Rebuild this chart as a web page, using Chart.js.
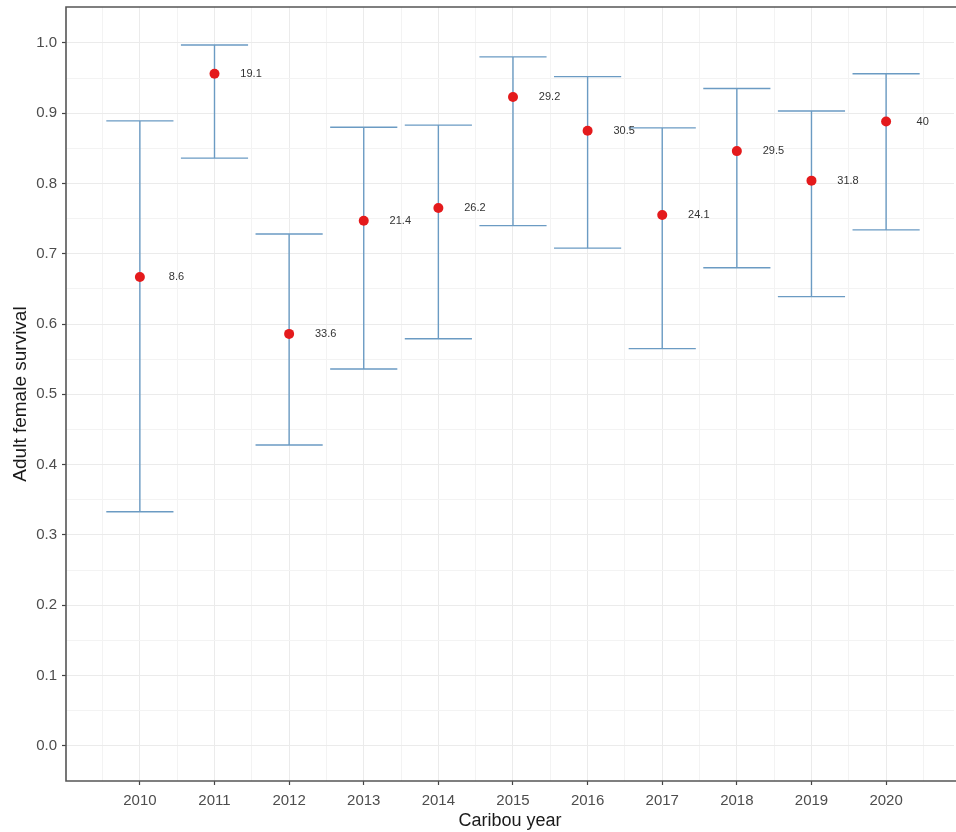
<!DOCTYPE html>
<html>
<head>
<meta charset="utf-8">
<script src="https://cdn.jsdelivr.net/npm/chart.js@4.4.0/dist/chart.umd.min.js"></script>
<style>
html,body{margin:0;padding:0;background:#fff;overflow:hidden;}
#wrap{width:956px;height:832px;position:relative;overflow:hidden;}
</style>
</head>
<body>
<div id="wrap"><canvas id="c" width="959" height="832"></canvas></div>
<script>
const years = [2010, 2011, 2012, 2013, 2014, 2015, 2016, 2017, 2018, 2019, 2020];
const survival = [0.667, 0.956, 0.586, 0.747, 0.765, 0.923, 0.875, 0.755, 0.846, 0.804, 0.888];
const upper = [0.889, 0.997, 0.728, 0.880, 0.883, 0.980, 0.952, 0.879, 0.935, 0.903, 0.956];
const lower = [0.333, 0.836, 0.428, 0.536, 0.579, 0.740, 0.708, 0.565, 0.680, 0.639, 0.734];
const labels = ['8.6', '19.1', '33.6', '21.4', '26.2', '29.2', '30.5', '24.1', '29.5', '31.8', '40'];
const yTickValues = [0.0, 0.1, 0.2, 0.3, 0.4, 0.5, 0.6, 0.7, 0.8, 0.9, 1.0];

const isMajorY = v => yTickValues.some(t => Math.abs(t - v) < 1e-6);
const isMajorX = v => years.some(t => Math.abs(t - v) < 1e-6);

const errPlugin = {
  id: 'errbars',
  beforeDatasetsDraw(chart) {
    const ctx = chart.ctx, xs = chart.scales.x, ys = chart.scales.y;
    ctx.save();
    ctx.strokeStyle = '#6b9bc3';
    ctx.lineWidth = 1.4;
    for (let i = 0; i < years.length; i++) {
      const x = xs.getPixelForValue(years[i]);
      const xl = xs.getPixelForValue(years[i] - 0.45);
      const xr = xs.getPixelForValue(years[i] + 0.45);
      const yu = ys.getPixelForValue(upper[i]);
      const yl = ys.getPixelForValue(lower[i]);
      ctx.beginPath();
      ctx.moveTo(x, yu); ctx.lineTo(x, yl);
      ctx.moveTo(xl, yu); ctx.lineTo(xr, yu);
      ctx.moveTo(xl, yl); ctx.lineTo(xr, yl);
      ctx.stroke();
    }
    ctx.restore();
  },
  afterDatasetsDraw(chart) {
    const ctx = chart.ctx, xs = chart.scales.x, ys = chart.scales.y, a = chart.chartArea;
    ctx.save();
    ctx.fillStyle = '#333333';
    ctx.font = '11px "Liberation Sans", Arial, sans-serif';
    ctx.textAlign = 'center';
    ctx.textBaseline = 'middle';
    for (let i = 0; i < years.length; i++) {
      ctx.fillText(labels[i], xs.getPixelForValue(years[i] + 0.49), ys.getPixelForValue(survival[i]));
    }
    // panel border (top, left, bottom)
    ctx.strokeStyle = '#555555';
    ctx.lineWidth = 1.6;
    ctx.beginPath();
    ctx.moveTo(a.right + 4, a.top);
    ctx.lineTo(a.left, a.top);
    ctx.lineTo(a.left, a.bottom);
    ctx.lineTo(a.right + 4, a.bottom);
    ctx.stroke();
    ctx.restore();
  }
};

new Chart(document.getElementById('c'), {
  type: 'scatter',
  data: {
    datasets: [{
      data: years.map((y, i) => ({x: y, y: survival[i]})),
      backgroundColor: '#e41a1c',
      borderColor: '#e41a1c',
      pointRadius: 5,
      pointHoverRadius: 5,
      borderWidth: 0
    }]
  },
  options: {
    responsive: false,
    animation: false,
    layout: {padding: {top: 7, right: 0, left: 0, bottom: 0}},
    plugins: {legend: {display: false}, tooltip: {enabled: false}},
    scales: {
      x: {
        type: 'linear',
        min: 2009.01,
        max: 2020.91,
        afterBuildTicks(scale) {
          const t = [];
          for (let v = 2009.5; v <= 2020.6; v += 0.5) t.push({value: Math.round(v * 2) / 2});
          scale.ticks = t;
        },
        afterFit(scale) { scale.height = 51; scale.paddingLeft = 0; scale.paddingRight = 0; },
        border: {display: false},
        grid: {
          color: c => isMajorX(c.tick.value) ? '#ebebeb' : '#f3f3f3',
          lineWidth: 1,
          tickColor: c => isMajorX(c.tick.value) ? '#444444' : 'rgba(0,0,0,0)',
          tickLength: 4,
          tickWidth: 1.2
        },
        ticks: {
          autoSkip: false,
          maxRotation: 0,
          padding: 7,
          color: '#4d4d4d',
          font: {family: '"Liberation Sans", Arial, sans-serif', size: 15},
          callback: v => isMajorX(v) ? String(Math.round(v)) : ''
        },
        title: {
          display: true,
          text: 'Caribou year',
          color: '#1a1a1a',
          font: {family: '"Liberation Sans", Arial, sans-serif', size: 18},
          padding: {top: 0, bottom: 0}
        }
      },
      y: {
        type: 'linear',
        min: -0.05,
        max: 1.051,
        afterBuildTicks(scale) {
          const t = [];
          yTickValues.forEach(v => { t.push({value: v}); if (v < 1.0) t.push({value: Math.round((v + 0.05) * 100) / 100}); });
          scale.ticks = t;
        },
        afterFit(scale) { scale.width = 66; scale.paddingTop = 0; scale.paddingBottom = 0; },
        border: {display: false},
        grid: {
          color: c => isMajorY(c.tick.value) ? '#ebebeb' : '#f3f3f3',
          lineWidth: 1,
          tickColor: c => isMajorY(c.tick.value) ? '#444444' : 'rgba(0,0,0,0)',
          tickLength: 4,
          tickWidth: 1.2
        },
        ticks: {
          autoSkip: false,
          padding: 5,
          color: '#4d4d4d',
          font: {family: '"Liberation Sans", Arial, sans-serif', size: 15},
          callback: v => isMajorY(v) ? v.toFixed(1) : ''
        },
        title: {
          display: true,
          text: 'Adult female survival',
          color: '#1a1a1a',
          font: {family: '"Liberation Sans", Arial, sans-serif', size: 19},
          padding: {top: 9, bottom: 0}
        }
      }
    }
  },
  plugins: [errPlugin]
});
</script>
</body>
</html>
